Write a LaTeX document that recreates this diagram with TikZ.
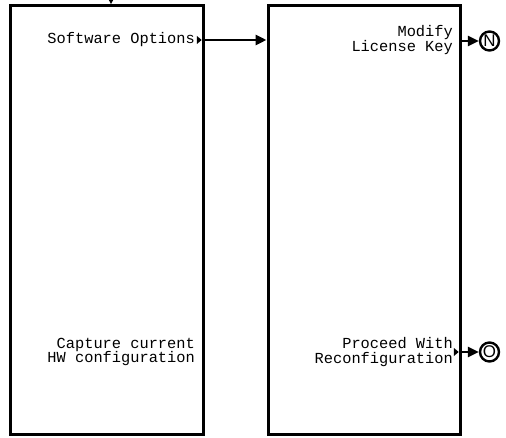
\documentclass[tikz,border=0pt]{standalone}
\usepackage{fontspec}
\setmonofont{Liberation Mono}
\setsansfont{Liberation Sans}
\usetikzlibrary{arrows.meta,shapes.geometric}
\tikzset{
  panel/.style={draw, line width=3bp, minimum width=192bp, minimum height=428bp, inner sep=0pt},
  lbl/.style={anchor=east, align=right, inner sep=0pt, font=\ttfamily\fontsize{15.4}{14.5}\selectfont},
  tick/.style={isosceles triangle, fill=black, inner sep=0pt, minimum height=4.5bp, minimum width=8bp, isosceles triangle apex angle=80},
  conn/.style={line width=2.8bp, -{Triangle[length=11bp,width=10bp]}},
  term/.style={circle, draw, line width=2.4bp, minimum size=19bp, inner sep=0pt, font=\sffamily\fontsize{17}{17}\selectfont}
}
\begin{document}
\begin{tikzpicture}[x=1bp,y=-1bp]
\useasboundingbox (0,0) rectangle (506,438);
\node[panel] (L) at (107,220) {};
\node[panel] (R) at (364,220) {};
\coordinate (top) at (111,-6);
\draw[conn] (top) -- (top |- L.north);
\node[lbl] (t1) at (195,40) {Software Options};
\node[lbl] (t2) at (195,352) {Capture current\\HW configuration};
\node[lbl] (t3) at (453,40) {Modify\\License Key};
\node[lbl] (t4) at (453,352) {Proceed With\\Reconfiguration};
\node[tick, anchor=east] (m1) at (202,40) {};
\coordinate (m3) at (460,41);
\node[tick, anchor=east] (m4) at (459,352) {};
\node[term] (N) at (489.5,41) {N};
\node[term] (O) at (489.5,352) {O};
\draw[conn] (L.east |- m1) -- (R.west |- m1);
\draw[conn] (R.east |- m3) -- (N.west);
\draw[conn] (R.east |- m4) -- (O.west);
\end{tikzpicture}
\end{document}
